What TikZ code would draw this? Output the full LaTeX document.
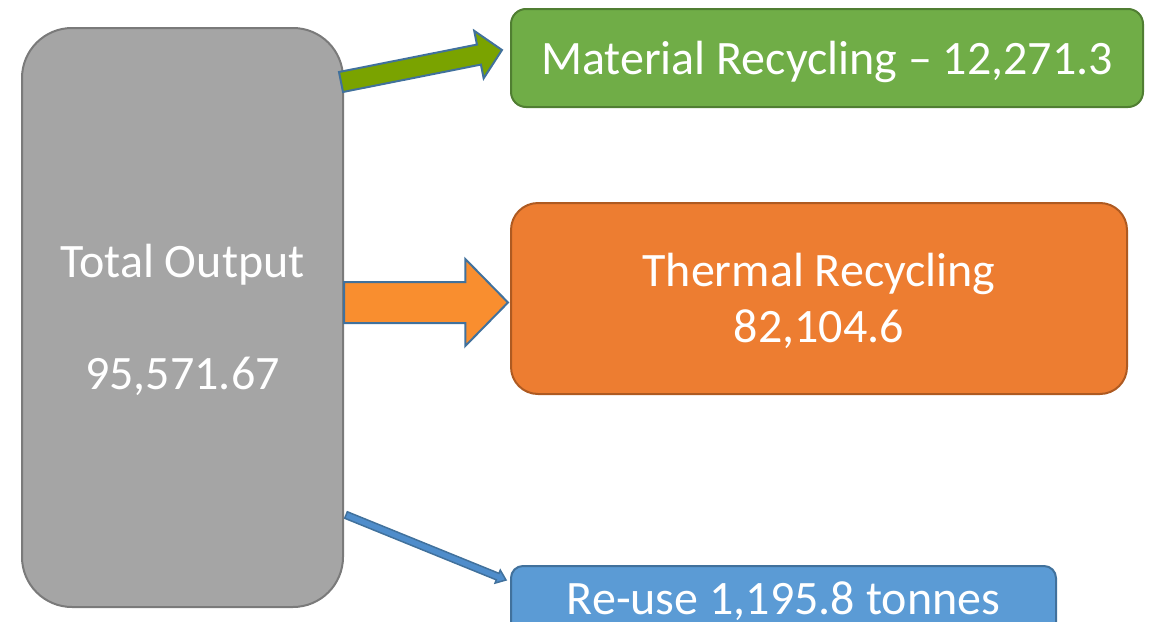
\documentclass[tikz,border=0pt]{standalone}
\usepackage{fontspec}
\setmainfont{Carlito}
\usetikzlibrary{calc,positioning}
\definecolor{totalgray}{HTML}{A5A5A5}
\definecolor{totalline}{HTML}{7A7A7A}
\definecolor{matgreen}{HTML}{70AD47}
\definecolor{matline}{HTML}{507E32}
\definecolor{thermorange}{HTML}{ED7D31}
\definecolor{thermline}{HTML}{AE5A21}
\definecolor{reuseblue}{HTML}{5B9BD5}
\definecolor{reuseline}{HTML}{41719C}
\definecolor{arrgreen}{HTML}{7AA300}
\definecolor{arrorange}{HTML}{F98E2F}
\definecolor{arrblue}{HTML}{4F8DCB}
\definecolor{arrline}{HTML}{41719C}
% struts, so that the baselines sit where they should
\newcommand{\topstrut}{\rule{0pt}{44pt}}
\newcommand{\botstrut}{\rule[-12pt]{0pt}{12pt}}
% block arrow: start, tip, shaft half width, head half width, head length, style
\newcommand{\blockarrow}[6]{%
  \path[#6] let \p1=($(#2)-(#1)$), \n1={veclen(\x1,\y1)}, \n2={atan2(\y1,\x1)} in
    [shift={(#1)}, rotate=\n2]
    (0pt,-#3pt) -- (\n1-#5pt,-#3pt) -- (\n1-#5pt,-#4pt) -- (\n1,0pt)
    -- (\n1-#5pt,#4pt) -- (\n1-#5pt,#3pt) -- (0pt,#3pt) -- cycle;}

\begin{document}
\begin{tikzpicture}[x=1pt,y=-1pt]
                    \tikzstyle{every node}+=[inner sep=0pt, text=white, font=\fontsize{48}{56}\selectfont, align=center]
                    \tikzstyle{outbox}=[draw, line width=2pt]
                    \useasboundingbox (0,0) rectangle (1156,621);
                    \clip (0,0) rectangle (1156,621);
                    % boxes
                    \node [outbox, fill=totalgray, draw=totalline, rounded corners=50pt, minimum width=321pt, minimum height=579pt] (total) at (182.5,317.5) {\topstrut Total Output\\[56pt]95,571.67\botstrut};
                    \node [outbox, fill=matgreen, draw=matline, rounded corners=15pt, minimum width=632pt, minimum height=98pt] (material) at (827,58) {\topstrut\botstrut Material Recycling -- 12,271.3};
                    \node [outbox, fill=thermorange, draw=thermline, rounded corners=27pt, minimum width=616pt, minimum height=191pt] (thermal) at (819,298.5) {\topstrut Thermal Recycling\\82,104.6\botstrut};
                    \node [outbox, fill=reuseblue, draw=reuseline, rounded corners=12pt, minimum width=545pt, minimum height=75pt, anchor=north] (reuse) at (783.5,565) {\rule[-27pt]{0pt}{75pt}Re-use 1,195.8 tonnes};
                    % arrow ends
                    \coordinate (mat1) at ($(total.north east)+(-3,55)$);
                    \coordinate (mat2) at ($(material.west)+(-8,-8)$);
                    \coordinate (therm1) at ($(total.east)+(0,-15)$);
                    \coordinate (therm2) at ($(thermal.west)+(-2,4)$);
                    \coordinate (reuse1) at ($(total.south east)+(2,-93)$);
                    \coordinate (reuse2) at ($(reuse.north west)+(-4,15)$);
                    % arrows
                    \blockarrow{mat1}{mat2}{10.2}{24.2}{23.5}{fill=arrgreen, draw=arrline, line width=2pt}
                    \blockarrow{therm1}{therm2}{20.5}{43.4}{42.6}{fill=arrorange, draw=arrline, line width=2pt}
                    \blockarrow{reuse1}{reuse2}{3.5}{7}{9}{fill=arrblue, draw=arrline, line width=1.5pt}
                \end{tikzpicture}
\end{document}
